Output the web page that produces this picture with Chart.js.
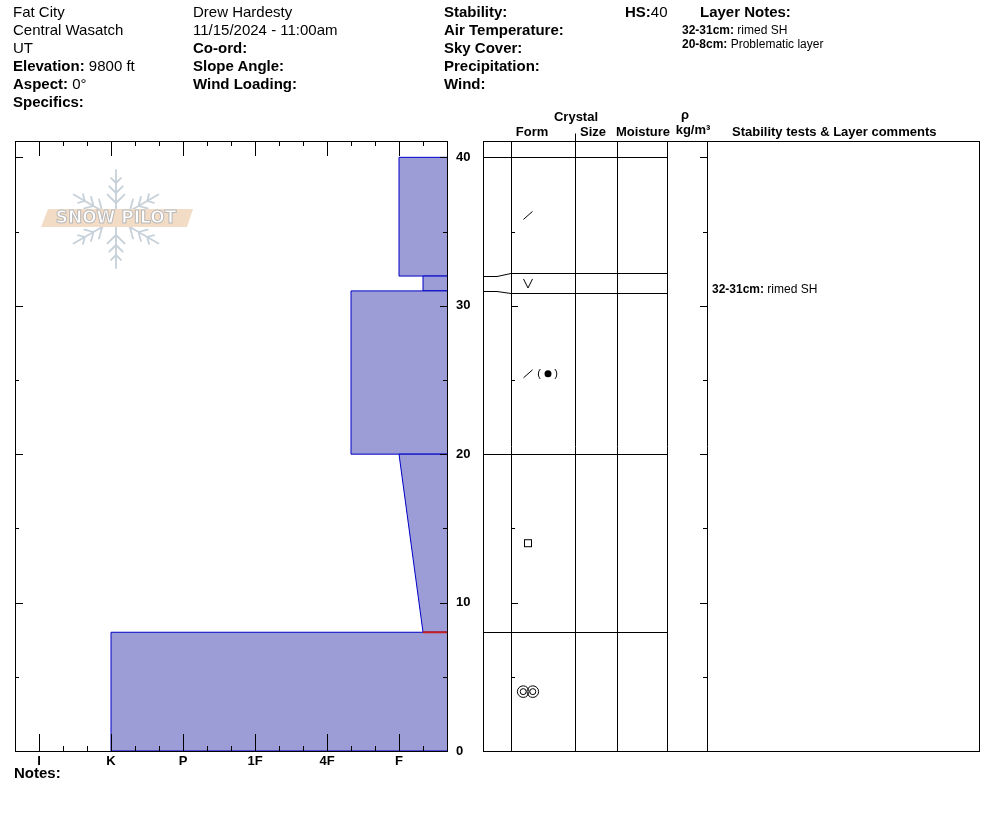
<!DOCTYPE html>
<html lang="en">
<head>
<meta charset="UTF-8">
<title>Snow Profile - Fat City</title>
<script src="https://cdn.jsdelivr.net/npm/chart.js"></script>
<style>
body { margin: 0; background: #fff; font-family: Arial, "Liberation Sans", sans-serif; color: #000; }
#wrap { position: relative; width: 994px; height: 840px; overflow: hidden; }
#profileChart { position: absolute; left: 0; top: 0; }
.t { position: absolute; white-space: nowrap; font-size: 15px; line-height: 18px; }
.s { position: absolute; white-space: nowrap; font-size: 12px; line-height: 14px; }
.h { position: absolute; white-space: nowrap; font-size: 13px; line-height: 16px; font-weight: bold; width: 200px; text-align: center; }
</style>
</head>
<body>
<div id="wrap">
    <canvas id="profileChart" width="994" height="840"></canvas>

    <!-- header -->
    <div class="t" style="left:13px; top:3px;">Fat City</div>
    <div class="t" style="left:13px; top:21px;">Central Wasatch</div>
    <div class="t" style="left:13px; top:39px;">UT</div>
    <div class="t" style="left:13px; top:57px;"><b>Elevation:</b> 9800 ft</div>
    <div class="t" style="left:13px; top:75px;"><b>Aspect:</b> 0°</div>
    <div class="t" style="left:13px; top:93px;"><b>Specifics:</b></div>

    <div class="t" style="left:193px; top:3px;">Drew Hardesty</div>
    <div class="t" style="left:193px; top:21px;">11/15/2024 - 11:00am</div>
    <div class="t" style="left:193px; top:39px;"><b>Co-ord:</b></div>
    <div class="t" style="left:193px; top:57px;"><b>Slope Angle:</b></div>
    <div class="t" style="left:193px; top:75px;"><b>Wind Loading:</b></div>

    <div class="t" style="left:444px; top:3px;"><b>Stability:</b></div>
    <div class="t" style="left:444px; top:21px;"><b>Air Temperature:</b></div>
    <div class="t" style="left:444px; top:39px;"><b>Sky Cover:</b></div>
    <div class="t" style="left:444px; top:57px;"><b>Precipitation:</b></div>
    <div class="t" style="left:444px; top:75px;"><b>Wind:</b></div>

    <div class="t" style="left:625px; top:3px;"><b>HS:</b><span id="hsValue"></span></div>
    <div class="t" style="left:700px; top:3px;"><b>Layer Notes:</b></div>
    <div id="layerNotes"></div>

    <!-- table headers -->
    <div class="h" style="left:476px; top:109px;">Crystal</div>
    <div class="h" style="left:585px; top:107px;">ρ</div>
    <div class="h" style="left:432px; top:124px;">Form</div>
    <div class="h" style="left:493px; top:124px;">Size</div>
    <div class="h" style="left:543px; top:124px;">Moisture</div>
    <div class="h" style="left:593px; top:122px;">kg/m³</div>
    <div class="h" style="left:732px; top:124px;">Stability tests &amp; Layer comments</div>

    <div id="comments"></div>

    <div class="t" style="left:14px; top:764px;"><b>Notes:</b></div>
</div>

<script>
// layers, bottom to top (cm)
const layerBottom = [0, 8, 20, 31, 32];
const layerTop = [8, 20, 31, 32, 40];
const hardnessBottom = ['K', 'F-', '4F-', 'F-', 'F'];
const hardnessTop = ['K', 'F', '4F-', 'F-', 'F'];
const grainForm = ['MF', 'FC', 'DF', 'SH', 'DF'];
const grainForm2 = ['', '', 'RG', '', ''];
const layerComment = ['', 'Problematic layer', '', 'rimed SH', ''];
const problemLayer = 1;

// axes
const hardnessLabels = ['I', 'K', 'P', '1F', '4F', 'F'];
const depthTicks = [0, 10, 20, 30, 40];
const snowHeight = 40;

const FONT = 'Arial, "Liberation Sans", sans-serif';

// hardness code -> number, F = 1 ... I = 6, +/- are thirds
function hard(code) {
    let base = code, adj = 0;
    if (code.endsWith('+')) { base = code.slice(0, -1); adj = 1 / 3; }
    if (code.endsWith('-')) { base = code.slice(0, -1); adj = -1 / 3; }
    return hardnessLabels.length - hardnessLabels.indexOf(base) + adj;
}
const hardMin = 1 / 3;
const hardMax = hardnessLabels.length + 1 / 3;

document.getElementById('hsValue').innerText = snowHeight;

// layer notes in the header, top layer first
(function () {
    const box = document.getElementById('layerNotes');
    let row = 0;
    for (let i = layerTop.length - 1; i >= 0; i--) {
        if (!layerComment[i]) continue;
        const d = document.createElement('div');
        d.className = 's';
        d.style.left = '682px';
        d.style.top = (23 + row * 14) + 'px';
        d.innerHTML = '<b>' + layerTop[i] + '-' + layerBottom[i] + 'cm:</b> ' + layerComment[i];
        box.appendChild(d);
        row++;
    }
})();

function drawLogo(ctx) {
    const cx = 116, cy = 219;
    ctx.save();
    ctx.strokeStyle = '#c7d1d9';
    ctx.lineWidth = 1.8;
    ctx.lineCap = 'round';
    for (let k = 0; k < 6; k++) {
        const ang = -Math.PI / 2 + k * Math.PI / 3;
        const ux = Math.cos(ang), uy = Math.sin(ang);
        ctx.beginPath();
        ctx.moveTo(cx, cy);
        ctx.lineTo(cx + 49 * ux, cy + 49 * uy);
        [16, 26, 36].forEach((d, j) => {
            const px = cx + d * ux, py = cy + d * uy;
            const len = 12 - j * 2.5;
            [Math.PI / 4, -Math.PI / 4].forEach(r => {
                const a2 = ang + r;
                ctx.moveTo(px, py);
                ctx.lineTo(px + len * Math.cos(a2), py + len * Math.sin(a2));
            });
        });
        ctx.stroke();
    }
    // banner
    ctx.fillStyle = '#f3dcc6';
    ctx.beginPath();
    ctx.moveTo(48, 209);
    ctx.lineTo(193, 209);
    ctx.lineTo(187, 227);
    ctx.lineTo(41, 227);
    ctx.closePath();
    ctx.fill();
    ctx.font = 'bold 17px "DejaVu Sans", sans-serif';
    ctx.textAlign = 'center';
    ctx.textBaseline = 'middle';
    ctx.fillStyle = '#ffffff';
    ctx.strokeStyle = '#b9b9b9';
    ctx.lineWidth = 1;
    ctx.fillText('SNOW PILOT', 116, 218.5, 134);
    ctx.strokeText('SNOW PILOT', 116, 218.5, 134);
    ctx.restore();
}

function drawGrain(ctx, code, cx, cy) {
    ctx.beginPath();
    if (code === 'DF') {
        ctx.moveTo(cx - 4.5, cy + 4);
        ctx.lineTo(cx + 4.5, cy - 4);
        ctx.stroke();
    } else if (code === 'SH') {
        ctx.moveTo(cx - 4.5, cy - 4.5);
        ctx.lineTo(cx, cy + 4.5);
        ctx.lineTo(cx + 4.5, cy - 4.5);
        ctx.stroke();
    } else if (code === 'FC') {
        ctx.strokeRect(cx - 3.5, cy - 3.5, 7, 7);
    } else if (code === 'RG') {
        ctx.arc(cx, cy, 3.5, 0, 2 * Math.PI);
        ctx.fill();
    } else if (code === 'MF') {
        [-4.8, 4.8].forEach(dx => {
            ctx.moveTo(cx + dx + 5.8, cy);
            ctx.arc(cx + dx, cy, 5.8, 0, 2 * Math.PI);
            ctx.moveTo(cx + dx + 3, cy);
            ctx.arc(cx + dx, cy, 3, 0, 2 * Math.PI);
        });
        ctx.stroke();
    }
}

let commentsPlaced = false;

const profilePlugin = {
    id: 'profile',
    beforeDatasetsDraw(chart) {
        drawLogo(chart.ctx);
    },
    afterDatasetsDraw(chart) {
        const ctx = chart.ctx;
        const a = chart.chartArea;
        const xs = chart.scales.x, ys = chart.scales.y;
        ctx.save();
        ctx.strokeStyle = '#000';
        ctx.fillStyle = '#000';
        ctx.lineWidth = 1;

        // frame of the hardness plot
        ctx.strokeRect(Math.round(a.left) + 0.5, Math.round(a.top) + 0.5,
            Math.round(a.right - a.left), Math.round(a.bottom - a.top));

        // hardness ticks, thirds
        ctx.beginPath();
        for (let k = 2; k < hardnessLabels.length * 3 + 1; k++) {
            const px = Math.round(xs.getPixelForValue(k / 3)) + 0.5;
            const major = k % 3 === 0;
            ctx.moveTo(px, a.top);
            ctx.lineTo(px, a.top + (major ? 15 : 5));
            ctx.moveTo(px, a.bottom);
            ctx.lineTo(px, a.bottom - (major ? 17 : 5));
        }
        // depth ticks every 5 cm
        for (let d = 0; d <= snowHeight; d += 5) {
            const py = Math.round(ys.getPixelForValue(d)) + 0.5;
            const major = d % 10 === 0;
            ctx.moveTo(a.left, py);
            ctx.lineTo(a.left + (major ? 8 : 4), py);
            ctx.moveTo(a.right, py);
            ctx.lineTo(a.right - (major ? 7 : 4), py);
        }
        ctx.stroke();

        // right hand table
        const col = { left: 483, form: 511, size: 575, moist: 617, dens: 667, comm: 707, right: 979 };
        const top = Math.round(a.top) + 0.5, bot = Math.round(a.bottom) + 0.5;
        ctx.strokeRect(col.left + 0.5, top, col.right - col.left, bot - top);
        ctx.beginPath();
        [col.form, col.size, col.moist, col.dens, col.comm].forEach(x => {
            ctx.moveTo(x + 0.5, top);
            ctx.lineTo(x + 0.5, bot);
        });
        ctx.moveTo(col.size + 0.5, top - 8);
        ctx.lineTo(col.size + 0.5, top);

        // boundaries: real pixel and displayed pixel (thin layers widened)
        const n = layerBottom.length;
        const depths = layerBottom.concat([layerTop[n - 1]]);
        const realY = depths.map(d => ys.getPixelForValue(d));
        const dispY = realY.slice();
        for (let i = 0; i < n; i++) {
            const yb = realY[i], yt = realY[i + 1];
            if (yb - yt < 20) {
                const c = (yb + yt) / 2;
                dispY[i] = c + 10;
                dispY[i + 1] = c - 10;
            }
        }
        for (let j = 1; j < depths.length; j++) {
            const yr = Math.round(realY[j]) + 0.5, yd = Math.round(dispY[j]) + 0.5;
            ctx.moveTo(col.left, yr);
            if (Math.abs(yr - yd) < 1) {
                ctx.lineTo(col.dens, yd);
            } else {
                ctx.lineTo(col.left + 14, yr);
                ctx.lineTo(col.form, yd);
                ctx.lineTo(col.dens, yd);
            }
        }
        for (let d = 0; d <= snowHeight; d += 5) {
            const py = Math.round(ys.getPixelForValue(d)) + 0.5;
            const major = d % 10 === 0;
            ctx.moveTo(col.form, py);
            ctx.lineTo(col.form + (major ? 7 : 4), py);
            ctx.moveTo(col.comm, py);
            ctx.lineTo(col.comm - (major ? 7 : 4), py);
        }
        ctx.stroke();

        // grain forms
        ctx.lineWidth = 1;
        ctx.font = '11px ' + FONT;
        ctx.textAlign = 'center';
        ctx.textBaseline = 'middle';
        for (let i = 0; i < n; i++) {
            const cy = (dispY[i] + dispY[i + 1]) / 2;
            const cx = col.form + 17;
            drawGrain(ctx, grainForm[i], cx, cy);
            if (grainForm2[i]) {
                ctx.fillText('(', cx + 11, cy);
                ctx.fillText(')', cx + 28, cy);
                drawGrain(ctx, grainForm2[i], cx + 20, cy);
            }
        }
        ctx.restore();

        // layer comments as text in the last column
        if (!commentsPlaced) {
            commentsPlaced = true;
            const box = document.getElementById('comments');
            for (let i = n - 1; i >= 0; i--) {
                if (!layerComment[i] || i === problemLayer) continue;
                const cy = (dispY[i] + dispY[i + 1]) / 2;
                const d = document.createElement('div');
                d.className = 's';
                d.style.left = (col.comm + 5) + 'px';
                d.style.top = Math.round(cy - 1) + 'px';
                d.innerHTML = '<b>' + layerTop[i] + '-' + layerBottom[i] + 'cm:</b> ' + layerComment[i];
                box.appendChild(d);
            }
        }
    }
};

window.onload = function () {
    // no blue outline along the plot's right edge, the black frame sits there
    const edgeSegment = {
        borderColor: c => (c.p0.parsed.x === hardMin && c.p1.parsed.x === hardMin) ? 'rgba(0,0,0,0)' : undefined
    };

    const layerSets = layerBottom.map((b, i) => ({
        label: 'layer ' + i,
        data: [
            { x: hardMin, y: b },
            { x: hard(hardnessBottom[i]), y: b },
            { x: hard(hardnessTop[i]), y: layerTop[i] },
            { x: hardMin, y: layerTop[i] },
            { x: hardMin, y: b }
        ],
        showLine: true,
        fill: 'shape',
        backgroundColor: '#9c9cd6',
        borderColor: '#0000c8',
        borderWidth: 1,
        pointRadius: 0,
        tension: 0,
        segment: edgeSegment,
        order: 1
    }));

    // problem layer marker, drawn on top of the layers
    layerSets.push({
        label: 'problem',
        data: [
            { x: hard(hardnessBottom[problemLayer]), y: layerBottom[problemLayer] },
            { x: hardMin, y: layerBottom[problemLayer] }
        ],
        showLine: true,
        fill: false,
        borderColor: '#c81e1e',
        borderWidth: 2,
        pointRadius: 0,
        order: 0
    });

    const tickFont = { family: FONT, size: 13, weight: 'bold' };

    new Chart(document.getElementById('profileChart'), {
        type: 'scatter',
        data: { datasets: layerSets },
        options: {
            responsive: false,
            animation: false,
            layout: { padding: { left: 15, top: 141, right: 507, bottom: 69 } },
            plugins: { legend: { display: false }, tooltip: { enabled: false } },
            scales: {
                x: {
                    type: 'linear',
                    reverse: true,
                    min: hardMin,
                    max: hardMax,
                    grid: { display: false, drawTicks: false },
                    border: { display: false },
                    afterBuildTicks: s => { s.ticks = hardnessLabels.map(l => ({ value: hard(l) })); },
                    afterFit: s => { s.height = 20; },
                    ticks: {
                        autoSkip: false,
                        maxRotation: 0,
                        padding: 3,
                        color: '#000',
                        font: tickFont,
                        callback: (v, idx) => hardnessLabels[idx]
                    }
                },
                y: {
                    type: 'linear',
                    position: 'right',
                    min: 0,
                    max: 41.1,
                    grid: { display: false, drawTicks: false },
                    border: { display: false },
                    afterBuildTicks: s => { s.ticks = depthTicks.map(v => ({ value: v })); },
                    afterFit: s => { s.width = 40; },
                    ticks: { padding: 9, color: '#000', font: tickFont }
                }
            }
        },
        plugins: [profilePlugin]
    });
};
</script>
</body>
</html>
